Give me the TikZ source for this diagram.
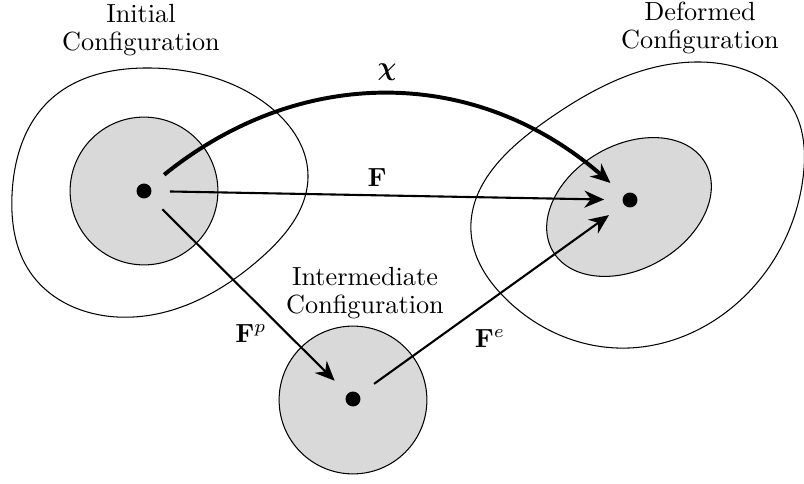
\documentclass[tikz,border=0pt]{standalone}
\usepackage{amsmath,bm}
\usetikzlibrary{arrows.meta,hobby}

\begin{document}
\begin{tikzpicture}[
    x=0.0134cm, y=-0.0134cm,
    blob/.style={draw, thin, use Hobby shortcut, closed=true},
    region/.style={draw, thin, fill=black!15},
    disc/.style={circle, region, minimum size=1.98cm, inner sep=0pt},
    dot/.style={circle, fill=black, minimum size=0.2cm, inner sep=0pt},
    map/.style={-{Stealth[length=7.5pt,width=6.5pt]}, thick, shorten <=0.24cm, shorten >=0.24cm},
    caption/.style={align=center, font=\linespread{0.9}\selectfont}
]
\useasboundingbox (0,0) rectangle (804,483);

% Initial configuration
\draw[blob] (12,195) .. (50,100) .. (150,68) .. (265,103) .. (308,175)
    .. (262,257) .. (117,317) .. (30,272);
\node[disc] (initdisc) at (144,191) {};
\node[dot] (init) at (144,191) {};
\node[caption] (initlabel) at (141,30) {Initial\\Configuration};

% Deformed configuration
\draw[blob] (471,232) .. (543,123) .. (700,62) .. (792,107) .. (803,178)
    .. (735,305) .. (617,348) .. (505,298);
\draw[region] (629,207) ellipse [x radius=1.18cm, y radius=0.83cm, rotate=30];
\node[dot] (def) at (630,200) {};
\node[caption] (deflabel) at (700,28) {Deformed\\Configuration};

% Intermediate configuration
\node[disc] (interdisc) at (353,400) {};
\node[dot] (inter) at (353,399) {};
\node[caption] (interlabel) at (365,293) {Intermediate\\Configuration};

% Maps
\draw[map, line width=1.5pt, bend left=40, looseness=1.05] (init) to (def);
\draw[map] (init) -- (def);
\draw[map] (init) -- (inter);
\draw[map] (inter) -- (def);

\node (chi) at (387,72) {$\bm{\chi}$};
\node (Ftot) at (377,178) {$\mathbf{F}$};
\node (Fp) at (251,333) {$\mathbf{F}^p$};
\node (Fe) at (490,338) {$\mathbf{F}^e$};
\end{tikzpicture}
\end{document}
